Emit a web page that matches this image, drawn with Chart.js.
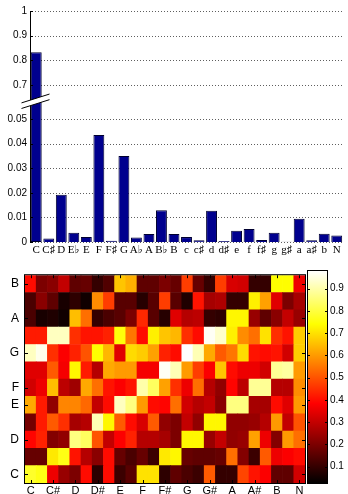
<!DOCTYPE html>
<html><head><meta charset="utf-8">
<script src="https://cdn.jsdelivr.net/npm/chart.js@4.4.1/dist/chart.umd.min.js"></script>
<style>
html,body{margin:0;padding:0;background:#fff;width:348px;height:494px;overflow:hidden}
canvas{position:absolute;display:block}
</style></head><body>
<canvas id="bars" width="348" height="258" style="left:0;top:0"></canvas>
<canvas id="heat" width="308" height="240" style="left:0;top:262px"></canvas>
<canvas id="cbar" width="48" height="232" style="left:300px;top:262px"></canvas>
<script>
// ---- top bar chart data ----
const chordLabels = ['C','C♯','D','E♭','E','F','F♯','G','A♭','A','B♭','B','c','c♯','d','d♯','e','f','f♯','g','g♯','a','a♯','b','N'];
const chordProb = [0.833,0.0014,0.0192,0.0038,0.0020,0.0435,0.0005,0.0350,0.0018,0.0033,0.0129,0.0033,0.0020,0.0007,0.0127,0.0004,0.0046,0.0053,0.0008,0.0038,0.0001,0.0094,0.0007,0.0034,0.0026];
const lowerTicks = [0,0.01,0.02,0.03,0.04,0.05];
const upperTicks = [0.7,0.8,0.9,1];
const lowerMax = 0.0569;
const upperMin = 0.631;

// ---- heatmap data (rows bottom->top: C ... B, 25 columns) ----
const noteNames = ['C','C#','D','D#','E','F','F#','G','G#','A','A#','B'];
const rowTickNames = ['C','D','E','F','G','A','B'];
const colLabels = ['C','','C#','','D','','D#','','E','','F','','F#','','G','','G#','','A','','A#','','B','','N'];
const heatRows = [
  [0.78,0.76,0.36,0.24,0.20,0.40,0.09,0.40,0.11,0.15,0.70,0.70,0.09,0.16,0.13,0.11,0.51,0.10,0.10,0.48,0.41,0.38,0.16,0.16,0.32],
  [0.17,0.17,0.71,0.76,0.41,0.28,0.22,0.40,0.17,0.13,0.17,0.11,0.71,0.73,0.17,0.16,0.16,0.17,0.54,0.21,0.11,0.51,0.36,0.38,0.40],
  [0.39,0.43,0.21,0.23,0.86,0.83,0.50,0.30,0.38,0.43,0.28,0.28,0.26,0.20,0.73,0.73,0.24,0.30,0.23,0.24,0.61,0.36,0.21,0.60,0.54],
  [0.19,0.42,0.51,0.45,0.26,0.28,0.91,0.73,0.51,0.40,0.33,0.51,0.23,0.20,0.30,0.23,0.73,0.73,0.23,0.23,0.24,0.28,0.60,0.30,0.50],
  [0.62,0.42,0.23,0.57,0.57,0.53,0.30,0.40,0.92,0.86,0.60,0.40,0.39,0.54,0.32,0.28,0.30,0.22,0.86,0.86,0.26,0.26,0.40,0.34,0.60],
  [0.32,0.36,0.65,0.29,0.25,0.62,0.54,0.41,0.38,0.41,0.90,0.83,0.61,0.45,0.36,0.54,0.28,0.23,0.39,0.29,0.88,0.88,0.28,0.28,0.58],
  [0.34,0.34,0.51,0.37,0.73,0.42,0.28,0.62,0.60,0.60,0.37,0.37,0.97,0.91,0.60,0.47,0.38,0.66,0.40,0.36,0.36,0.32,0.88,0.89,0.60],
  [0.92,0.96,0.45,0.38,0.43,0.50,0.74,0.64,0.34,0.69,0.67,0.61,0.43,0.40,0.98,0.91,0.62,0.51,0.55,0.69,0.41,0.40,0.41,0.32,0.67],
  [0.42,0.42,0.92,0.92,0.45,0.41,0.41,0.43,0.75,0.55,0.40,0.72,0.66,0.64,0.45,0.40,0.97,0.93,0.72,0.58,0.54,0.70,0.45,0.41,0.67],
  [0.13,0.06,0.07,0.05,0.65,0.54,0.10,0.13,0.15,0.20,0.44,0.15,0.08,0.34,0.28,0.29,0.10,0.09,0.73,0.73,0.24,0.16,0.22,0.30,0.24],
  [0.13,0.22,0.16,0.06,0.09,0.05,0.58,0.47,0.15,0.15,0.08,0.15,0.47,0.15,0.07,0.41,0.26,0.27,0.10,0.10,0.72,0.61,0.34,0.20,0.26],
  [0.40,0.20,0.22,0.30,0.16,0.17,0.10,0.14,0.66,0.63,0.16,0.16,0.20,0.17,0.47,0.17,0.10,0.47,0.33,0.32,0.10,0.10,0.74,0.74,0.36]
];
const cbarMin = 0.027;
const cbarMax = 0.979;
const cbarTicks = [0.1,0.2,0.3,0.4,0.5,0.6,0.7,0.8,0.9];

const SANS = "'Liberation Sans', Arial, sans-serif";
const SERIF = "'Liberation Serif', 'DejaVu Serif', serif";
const barFill = '#00008e';
const barEdge = '#000030';

function hot(v) {
  const t = Math.max(0, Math.min(1, (v - cbarMin) / (cbarMax - cbarMin)));
  const r = Math.min(1, t / 0.375);
  const g = Math.max(0, Math.min(1, (t - 0.375) / 0.375));
  const b = Math.max(0, Math.min(1, (t - 0.75) / 0.25));
  return `rgb(${Math.round(r*255)},${Math.round(g*255)},${Math.round(b*255)})`;
}

Chart.defaults.animation = false;
Chart.defaults.color = '#000';

// ---------- top chart ----------
const topDecor = {
  id: 'topDecor',
  afterDraw(chart) {
    const ctx = chart.ctx, chartArea = chart.chartArea;
    const lo = chart.scales.yLow, hi = chart.scales.yHigh;
    ctx.save();
    // inward tick marks
    ctx.strokeStyle = '#000'; ctx.lineWidth = 1;
    [lo, hi].forEach(s => s.ticks.forEach(t => {
      const y = Math.round(s.getPixelForValue(t.value)) + 0.5;
      ctx.beginPath(); ctx.moveTo(chartArea.left, y); ctx.lineTo(chartArea.left + 3, y); ctx.stroke();
    }));
    // axis break
    const cx = chartArea.left, cy = lo.top + 1, h = 2.8, k = 0.315;
    const x0 = cx - 8.5, x1 = cx + 19.5;
    const yU = x => cy - h - k * (x - cx), yL = x => cy + h - k * (x - cx);
    ctx.beginPath();
    ctx.moveTo(x0, yU(x0)); ctx.lineTo(x1, yU(x1)); ctx.lineTo(x1, yL(x1)); ctx.lineTo(x0, yL(x0)); ctx.closePath();
    ctx.fillStyle = '#fff'; ctx.fill();
    ctx.beginPath();
    ctx.moveTo(x0, yU(x0)); ctx.lineTo(x1, yU(x1));
    ctx.moveTo(x0, yL(x0)); ctx.lineTo(x1, yL(x1));
    ctx.stroke();
    // dotted grid lines, painted behind everything already drawn
    ctx.globalCompositeOperation = 'destination-over';
    ctx.fillStyle = '#5f5f5f';
    [lo, hi].forEach(s => s.ticks.forEach(t => {
      const y = Math.round(s.getPixelForValue(t.value));
      for (let x = Math.round(chartArea.left) + 2; x < chartArea.right; x += 3) ctx.fillRect(x, y, 1, 1);
    }));
    ctx.restore();
  }
};

const yCommon = {
  type: 'linear', position: 'left', stack: 'prob',
  grid: { display: false, drawTicks: false },
  border: { display: true, color: '#000', width: 1 },
  ticks: { font: { family: SANS, size: 10 }, padding: 3, color: '#000', autoSkip: false },
  afterFit: s => { s.width = 30; }
};

new Chart(document.getElementById('bars'), {
  type: 'bar',
  data: {
    labels: chordLabels,
    datasets: [
      {
        data: chordProb.map(v => Math.min(v, lowerMax)),
        yAxisID: 'yLow',
        backgroundColor: barFill, borderColor: barEdge, borderWidth: 1,
        borderSkipped: ctx => chordProb[ctx.dataIndex] > lowerMax ? 'end' : 'start'
      },
      {
        data: chordProb.map(v => v > lowerMax ? [upperMin, v] : null),
        yAxisID: 'yHigh',
        backgroundColor: barFill, borderColor: barEdge, borderWidth: 1,
        borderSkipped: 'start'
      }
    ]
  },
  options: {
    responsive: false,
    layout: { padding: { top: 11, right: 5, left: 0, bottom: 0 } },
    plugins: { legend: { display: false }, tooltip: { enabled: false } },
    datasets: { bar: { grouped: false, barPercentage: 0.87, categoryPercentage: 1 } },
    scales: {
      x: {
        grid: { display: false, drawTicks: false }, border: { display: false },
        ticks: { font: { family: SERIF, size: 11 }, padding: 2, autoSkip: false, maxRotation: 0, color: '#000' },
        afterFit: s => { s.height = 16; }
      },
      yLow: Object.assign({}, yCommon, {
        stackWeight: 140, min: 0, max: lowerMax,
        afterBuildTicks: s => { s.ticks = lowerTicks.map(v => ({ value: v })); },
        ticks: Object.assign({}, yCommon.ticks, { callback: v => String(+v.toFixed(2)) })
      }),
      yHigh: Object.assign({}, yCommon, {
        stackWeight: 91, min: upperMin, max: 1,
        afterBuildTicks: s => { s.ticks = upperTicks.map(v => ({ value: v })); },
        ticks: Object.assign({}, yCommon.ticks, { callback: v => String(+v.toFixed(1)) })
      })
    }
  },
  plugins: [topDecor]
});

// ---------- heatmap ----------
function drawFrame(chart, tickLen, withX) {
  const {ctx, chartArea: a} = chart;
  ctx.save();
  ctx.strokeStyle = '#000'; ctx.lineWidth = 1;
  ctx.strokeRect(a.left - 0.5, a.top - 0.5, a.right - a.left + 1, a.bottom - a.top + 1);
  const ys = chart.scales.y;
  ys.ticks.forEach(t => {
    const y = Math.round(ys.getPixelForValue(t.value)) + 0.5;
    ctx.beginPath();
    ctx.moveTo(a.left, y); ctx.lineTo(a.left + tickLen, y);
    ctx.moveTo(a.right, y); ctx.lineTo(a.right - tickLen, y);
    ctx.stroke();
  });
  if (withX) {
    const xs = chart.scales.x;
    colLabels.forEach((lab, i) => {
      if (!lab) return;
      const x = Math.round(xs.getPixelForValue(i)) + 0.5;
      ctx.beginPath();
      ctx.moveTo(x, a.bottom); ctx.lineTo(x, a.bottom - tickLen);
      ctx.moveTo(x, a.top); ctx.lineTo(x, a.top + tickLen);
      ctx.stroke();
    });
  }
  ctx.restore();
}

new Chart(document.getElementById('heat'), {
  type: 'bar',
  data: {
    labels: colLabels,
    datasets: heatRows.map((row, r) => ({
      data: row.map(() => [r, r + 1]),
      backgroundColor: row.map(v => hot(v)),
      borderWidth: 0
    }))
  },
  options: {
    responsive: false,
    layout: { padding: { top: 9, right: 3, left: 0, bottom: 0 } },
    plugins: { legend: { display: false }, tooltip: { enabled: false } },
    datasets: { bar: { grouped: false, barPercentage: 1, categoryPercentage: 1 } },
    scales: {
      x: {
        grid: { display: false, drawTicks: false }, border: { display: false },
        ticks: { font: { family: SANS, size: 11 }, padding: 1, autoSkip: false, maxRotation: 0, color: '#000' },
        afterFit: s => { s.height = 19; }
      },
      y: {
        type: 'linear', min: 0, max: noteNames.length,
        grid: { display: false, drawTicks: false }, border: { display: false },
        afterBuildTicks: s => {
          s.ticks = rowTickNames.map(n => ({ value: noteNames.indexOf(n) + 0.5 }));
        },
        ticks: { font: { family: SANS, size: 12 }, padding: 6, color: '#000', autoSkip: false,
          callback: v => noteNames[Math.floor(v)] },
        afterFit: s => { s.width = 25; }
      }
    }
  },
  plugins: [{ id: 'heatFrame', afterDatasetsDraw: c => drawFrame(c, 3, true) }]
});

// ---------- colorbar ----------
new Chart(document.getElementById('cbar'), {
  type: 'bar',
  data: {
    labels: [''],
    datasets: [{
      data: [[cbarMin, cbarMax]],
      borderWidth: 0,
      backgroundColor: ctx => {
        const chart = ctx.chart;
        const ys = chart.scales.y;
        if (!chart.chartArea || !ys) return '#888';
        const g = chart.ctx.createLinearGradient(0, ys.getPixelForValue(cbarMin), 0, ys.getPixelForValue(cbarMax));
        g.addColorStop(0, '#000000');
        g.addColorStop(0.375, '#ff0000');
        g.addColorStop(0.75, '#ffff00');
        g.addColorStop(1, '#ffffff');
        return g;
      }
    }]
  },
  options: {
    responsive: false,
    layout: { padding: { top: 8, right: 0, left: 8, bottom: 11 } },
    plugins: { legend: { display: false }, tooltip: { enabled: false } },
    datasets: { bar: { barPercentage: 1, categoryPercentage: 1 } },
    scales: {
      x: { display: false },
      y: {
        type: 'linear', position: 'right', min: cbarMin, max: cbarMax,
        grid: { display: false, drawTicks: false }, border: { display: false },
        afterBuildTicks: s => { s.ticks = cbarTicks.map(v => ({ value: v })); },
        ticks: { font: { family: SANS, size: 10 }, padding: 3, color: '#000', autoSkip: false,
          callback: v => v.toFixed(1) },
        afterFit: s => { s.width = 21; }
      }
    }
  },
  plugins: [{ id: 'cbFrame', afterDatasetsDraw: c => drawFrame(c, 2, false) }]
});
</script>
</body></html>
